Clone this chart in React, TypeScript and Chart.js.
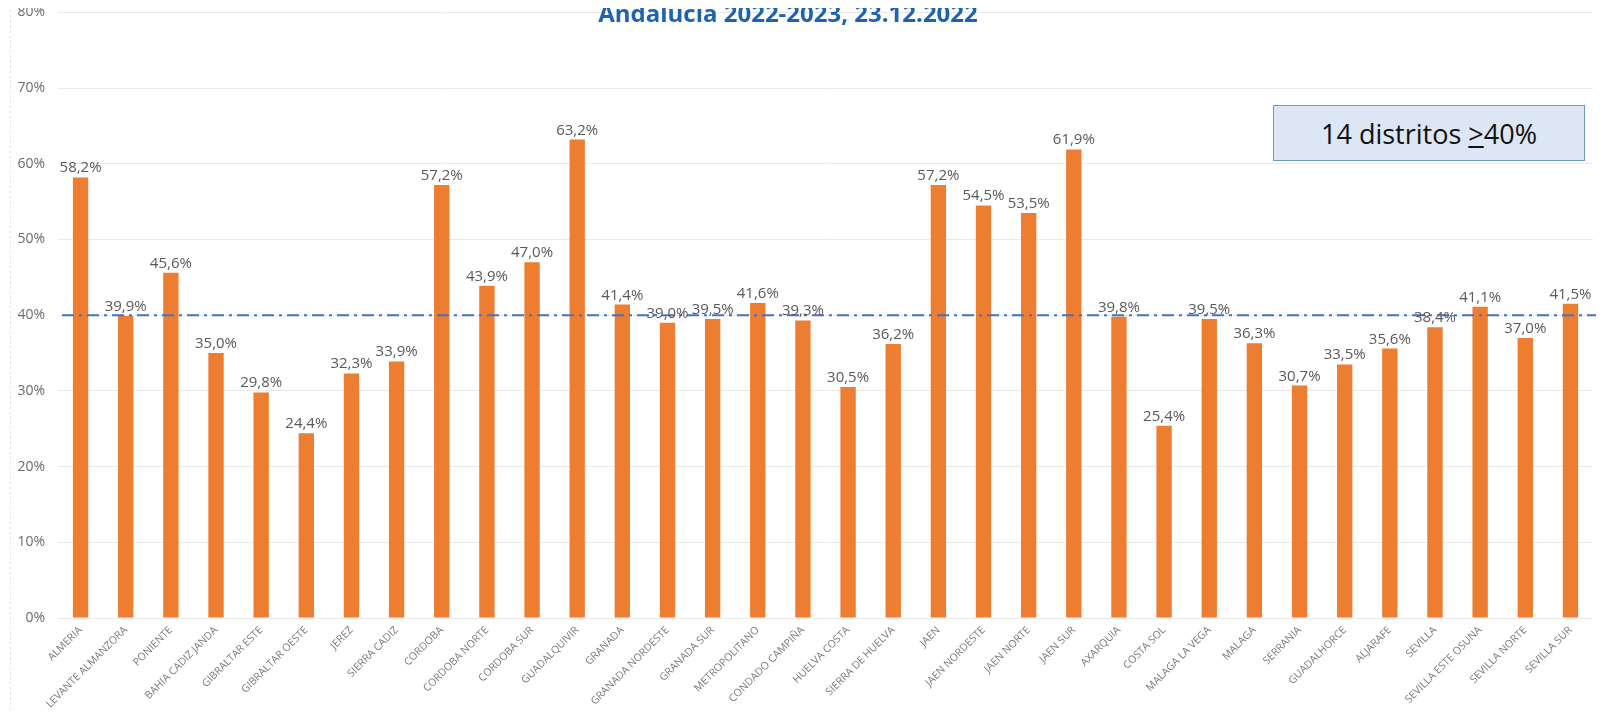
import React, { useEffect, useRef } from "react";
import { Chart, registerables } from "chart.js";

Chart.register(...registerables);

const districts: string[] = [
  "ALMERIA", "LEVANTE ALMANZORA", "PONIENTE", "BAHIA CADIZ JANDA", "GIBRALTAR ESTE",
  "GIBRALTAR OESTE", "JEREZ", "SIERRA CADIZ", "CORDOBA", "CORDOBA NORTE", "CORDOBA SUR",
  "GUADALQUIVIR", "GRANADA", "GRANADA NORDESTE", "GRANADA SUR", "METROPOLITANO",
  "CONDADO CAMPIÑA", "HUELVA COSTA", "SIERRA DE HUELVA", "JAEN", "JAEN NORDESTE",
  "JAEN NORTE", "JAEN SUR", "AXARQUIA", "COSTA SOL", "MALAGA LA VEGA", "MALAGA",
  "SERRANIA", "GUADALHORCE", "ALJARAFE", "SEVILLA", "SEVILLA ESTE OSUNA",
  "SEVILLA NORTE", "SEVILLA SUR",
];

const coverage: number[] = [
  58.2, 39.9, 45.6, 35.0, 29.8, 24.4, 32.3, 33.9, 57.2, 43.9, 47.0, 63.2,
  41.4, 39.0, 39.5, 41.6, 39.3, 30.5, 36.2, 57.2, 54.5, 53.5, 61.9, 39.8,
  25.4, 39.5, 36.3, 30.7, 33.5, 35.6, 38.4, 41.1, 37.0, 41.5,
];

const yMin = 0;
const yMax = 80;
const yStep = 10;
const threshold = 40;

const titleText = "Andalucia 2022-2023, 23.12.2022";
const noteCount = "14 distritos ";
const noteSign = ">";
const noteValue = "40%";

const fmt = (v: number) => v.toFixed(1).replace(".", ",") + "%";

const thresholdPlugin = {
  id: "thresholdLine",
  afterDatasetsDraw(chart: any) {
    const { ctx, chartArea, scales } = chart;
    const y = scales.y.getPixelForValue(threshold);
    ctx.save();
    ctx.strokeStyle = "#4472C4";
    ctx.lineWidth = 2;
    ctx.setLineDash([12, 5, 3, 5]);
    ctx.beginPath();
    ctx.moveTo(chartArea.left + 4, y);
    ctx.lineTo(chartArea.right + 5, y);
    ctx.stroke();
    ctx.restore();
  },
};

const valueLabelPlugin = {
  id: "valueLabels",
  afterDatasetsDraw(chart: any) {
    const { ctx } = chart;
    const meta = chart.getDatasetMeta(0);
    const data = chart.data.datasets[0].data as number[];
    ctx.save();
    ctx.font = "15px 'Open Sans'";
    ctx.fillStyle = "#595959";
    ctx.textAlign = "center";
    ctx.textBaseline = "alphabetic";
    meta.data.forEach((bar: any, i: number) => {
      ctx.fillText(fmt(data[i]), bar.x, bar.y - 5);
    });
    ctx.restore();
  },
};

export default function App() {
  const canvasRef = useRef<HTMLCanvasElement | null>(null);

  useEffect(() => {
    if (!canvasRef.current) return;
    const chart = new Chart(canvasRef.current, {
      type: "bar",
      data: {
        labels: districts,
        datasets: [
          {
            data: coverage,
            backgroundColor: "#ED7D31",
            borderWidth: 0,
            barPercentage: 0.34,
            categoryPercentage: 1,
          },
        ],
      },
      options: {
        animation: false,
        responsive: false,
        devicePixelRatio: 1,
        layout: { padding: { top: 0, right: 11, left: 0, bottom: 0 } },
        plugins: {
          legend: { display: false },
          title: { display: false },
          tooltip: { enabled: false },
        },
        scales: {
          x: {
            grid: { display: false, drawTicks: false },
            border: { display: false },
            ticks: {
              autoSkip: false,
              minRotation: 45,
              maxRotation: 45,
              padding: 6,
              color: "#7a7a7a",
              font: { family: "'Open Sans'", size: 10.5 },
            },
            afterFit(scale: any) {
              scale.height = 102;
            },
          },
          y: {
            min: yMin,
            max: yMax,
            grid: { color: "#E9E9E9", drawTicks: false, lineWidth: 1 },
            border: { display: false },
            ticks: {
              stepSize: yStep,
              padding: 13,
              color: "#6b6b6b",
              font: { family: "'Open Sans'", size: 14 },
              callback: (v: any) => v + "%",
            },
            afterFit(scale: any) {
              scale.width = 58;
            },
          },
        },
      },
      plugins: [thresholdPlugin, valueLabelPlugin],
    });
    return () => chart.destroy();
  }, []);

  return (
    <div
      style={{
        position: "relative",
        width: 1604,
        height: 720,
        margin: -8,
        overflow: "hidden",
        background: "#ffffff",
      }}
    >
      <canvas
        ref={canvasRef}
        width={1604}
        height={729}
        style={{ display: "block", position: "absolute", left: 0, top: -9 }}
      />
      <div
        style={{
          position: "absolute",
          left: 10,
          top: 0,
          height: 720,
          borderLeft: "1px dashed #e4e4e4",
        }}
      />
      <div
        style={{
          position: "absolute",
          left: 0,
          top: 1,
          width: 1576,
          textAlign: "center",
          fontFamily: "'Open Sans', sans-serif",
          fontWeight: 700,
          fontSize: 24,
          lineHeight: "24px",
          color: "#1F62B0",
          whiteSpace: "nowrap",
        }}
      >
        {titleText}
      </div>
      <div
        style={{
          position: "absolute",
          left: 1273,
          top: 105,
          width: 312,
          height: 56,
          boxSizing: "border-box",
          border: "1.5px solid #7093D1",
          background: "#DCE6F4",
          display: "flex",
          alignItems: "center",
          justifyContent: "center",
          fontFamily: "'Open Sans', sans-serif",
          fontSize: 27,
          color: "#111111",
          whiteSpace: "nowrap",
        }}
      >
        <span>
          {noteCount}
          <span style={{ textDecoration: "underline" }}>{noteSign}</span>
          {noteValue}
        </span>
      </div>
    </div>
  );
}
